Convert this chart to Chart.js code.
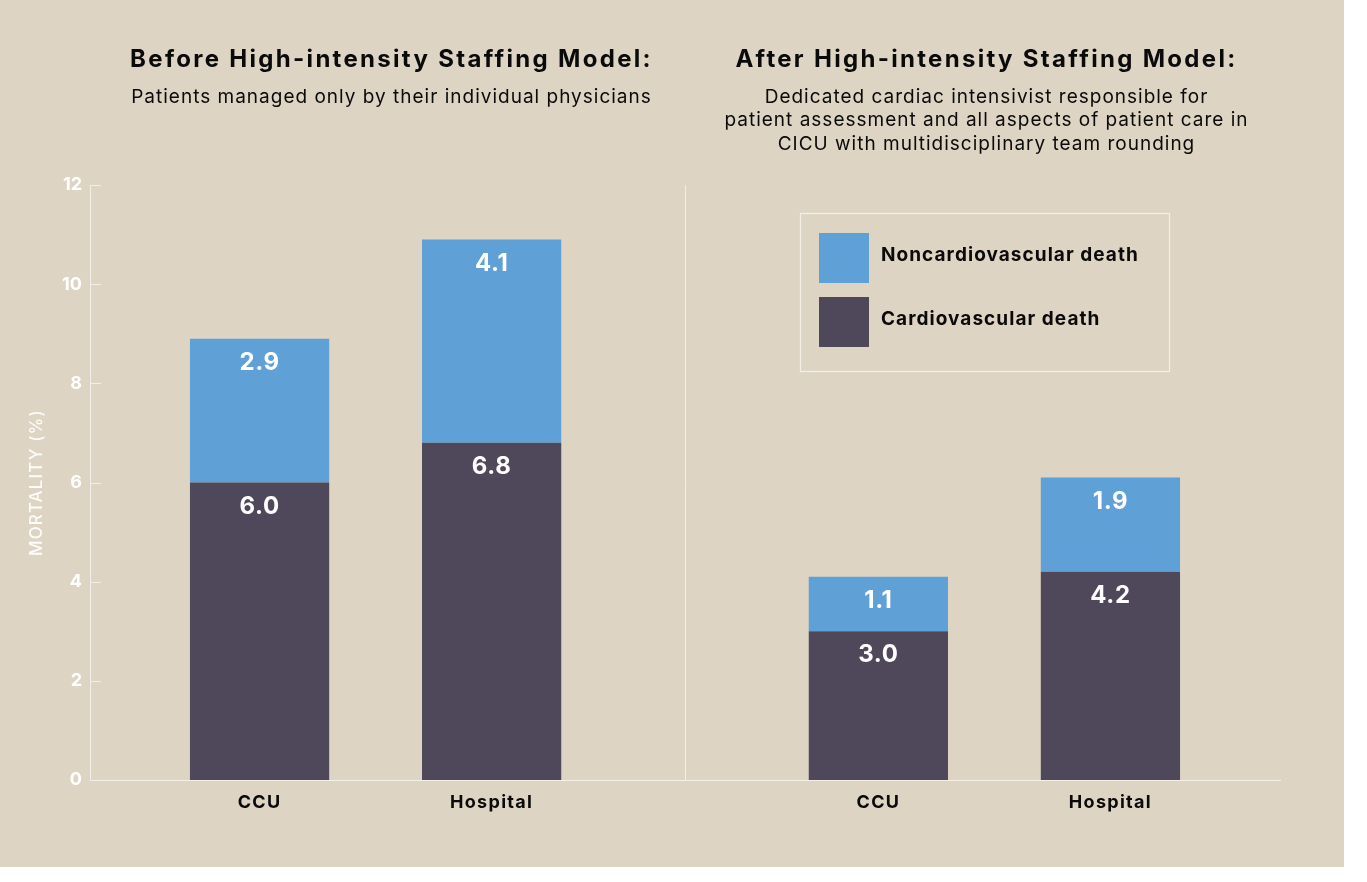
<!DOCTYPE html>
<html><head><meta charset="utf-8">
<script src="https://cdn.jsdelivr.net/npm/chart.js@4.4.1/dist/chart.umd.min.js"></script>
<style>
html,body{margin:0;padding:0;background:#ffffff;}
#wrap{position:absolute;left:0;top:0;width:1344px;height:867px;background:#ddd4c4;}
canvas{display:block;}
</style></head><body>
<div id="wrap"><canvas id="c" width="1344" height="867"></canvas></div>
<script>
// ---- data ----
const panels = ['Before', 'After'];
const panelTitles = ['Before High-intensity Staffing Model:', 'After High-intensity Staffing Model:'];
const panelSubtitles = [
  ['Patients managed only by their individual physicians'],
  ['Dedicated cardiac intensivist responsible for', 'patient assessment and all aspects of patient care in', 'CICU with multidisciplinary team rounding']
];
const units = ['CCU', 'Hospital'];
const cardiovascularCCU = [6.0, 3.0];
const cardiovascularHospital = [6.8, 4.2];
const noncardiovascularCCU = [2.9, 1.1];
const noncardiovascularHospital = [4.1, 1.9];
const seriesNames = ['Cardiovascular death', 'Noncardiovascular death'];
const yTicks = [0, 2, 4, 6, 8, 10, 12];
const yAxisTitle = 'MORTALITY (%)';

// ---- style ----
const DARK = '#4f485b', BLUE = '#5fa0d6', LINE = '#f3efe8', TEXT = '#0a0a0a';
const FONT = 'Inter, "Noto Sans", sans-serif';
const PANEL_INSET = 0.24; // fraction of plot width from edge to panel group centre

function setFont(ctx, f, spacing) {
  ctx.font = f;
  if ('letterSpacing' in ctx) ctx.letterSpacing = spacing + 'px';
}

const deco = {
  id: 'deco',
  afterDraw(chart) {
    const {ctx, chartArea: a, scales: {y}} = chart;
    ctx.save();
    ctx.strokeStyle = LINE; ctx.lineWidth = 1;
    // inside tick marks
    yTicks.forEach(v => {
      const py = Math.round(y.getPixelForValue(v)) + 0.5;
      ctx.beginPath(); ctx.moveTo(a.left, py); ctx.lineTo(a.left + 11, py); ctx.stroke();
    });
    // divider
    const mid = Math.round((a.left + a.right) / 2) + 0.5;
    ctx.beginPath(); ctx.moveTo(mid, a.top); ctx.lineTo(mid, a.bottom); ctx.stroke();

    // y axis title
    ctx.save();
    ctx.translate(37, (a.top + a.bottom) / 2);
    ctx.rotate(-Math.PI / 2);
    ctx.textAlign = 'center'; ctx.textBaseline = 'middle';
    ctx.fillStyle = 'rgba(255,255,255,0.92)';
    setFont(ctx, '500 17px ' + FONT, 1.1);
    ctx.fillText(yAxisTitle, 0, 0);
    ctx.restore();

    // panel titles
    ctx.textAlign = 'center'; ctx.textBaseline = 'middle'; ctx.fillStyle = TEXT;
    panels.forEach((p, i) => {
      const cx = a.left + (i + 0.5) * a.width / 2 + 4;
      setFont(ctx, 'bold 24px ' + FONT, 2.3);
      ctx.fillText(panelTitles[i], cx, 60);
      setFont(ctx, '19px ' + FONT, 1.0);
      panelSubtitles[i].forEach((line, k) => ctx.fillText(line, cx, 97 + k * 23.5));
    });

    // value labels + category labels
    chart.data.datasets.forEach((ds, di) => {
      const meta = chart.getDatasetMeta(di);
      meta.data.forEach((el, j) => {
        const v = ds.data[j];
        ctx.fillStyle = '#ffffff';
        setFont(ctx, 'bold 24px ' + FONT, 0.6);
        ctx.fillText(v.toFixed(1), el.x, el.y + 24);
        if (ds.label === seriesNames[0]) {
          ctx.fillStyle = TEXT;
          setFont(ctx, 'bold 18px ' + FONT, 1.3);
          ctx.fillText(ds.stack, el.x, a.bottom + 23);
        }
      });
    });

    // legend box
    ctx.strokeStyle = LINE; ctx.lineWidth = 1.2;
    ctx.strokeRect(800.5, 213.5, 369, 158);
    const items = [[seriesNames[1], BLUE], [seriesNames[0], DARK]];
    items.forEach((it, k) => {
      const top = 233 + k * 64;
      ctx.fillStyle = it[1];
      ctx.fillRect(819, top, 50, 50);
      ctx.fillStyle = TEXT; ctx.textAlign = 'left';
      setFont(ctx, 'bold 19px ' + FONT, 1.05);
      ctx.fillText(it[0], 881, top + 22);
    });
    ctx.restore();
  }
};

new Chart(document.getElementById('c'), {
  type: 'bar',
  data: {
    labels: panels,
    datasets: [
      {label: seriesNames[0], data: cardiovascularCCU, stack: units[0], backgroundColor: DARK},
      {label: seriesNames[0], data: cardiovascularHospital, stack: units[1], backgroundColor: DARK},
      {label: seriesNames[1], data: noncardiovascularCCU, stack: units[0], backgroundColor: BLUE},
      {label: seriesNames[1], data: noncardiovascularHospital, stack: units[1], backgroundColor: BLUE}
    ]
  },
  options: {
    responsive: false,
    animation: false,
    devicePixelRatio: 1,
    layout: {padding: {left: 0, top: 185, right: 64, bottom: 0}},
    datasets: {bar: {categoryPercentage: 0.75, barPercentage: 0.6}},
    plugins: {legend: {display: false}, tooltip: {enabled: false}},
    scales: {
      x: {
        stacked: true,
        grid: {display: false, drawTicks: false},
        border: {color: LINE, width: 1},
        ticks: {display: false},
        afterBuildTicks(s) {
          const range = 1 / (1 - 2 * PANEL_INSET);
          s._valueRange = range;
          s._startValue = -PANEL_INSET * range;
        },
        afterFit(s) { s.height = 87; }
      },
      y: {
        stacked: true,
        min: 0, max: 12,
        afterBuildTicks(s) { s.ticks = yTicks.map(v => ({value: v})); },
        grid: {display: false, drawTicks: false},
        border: {color: LINE, width: 1},
        ticks: {color: '#ffffff', font: {family: FONT, size: 18, weight: 'bold'}, padding: 8},
        title: {display: false, text: yAxisTitle},
        afterFit(s) { s.width = 90; }
      }
    }
  },
  plugins: [deco]
});
</script>
</body></html>
